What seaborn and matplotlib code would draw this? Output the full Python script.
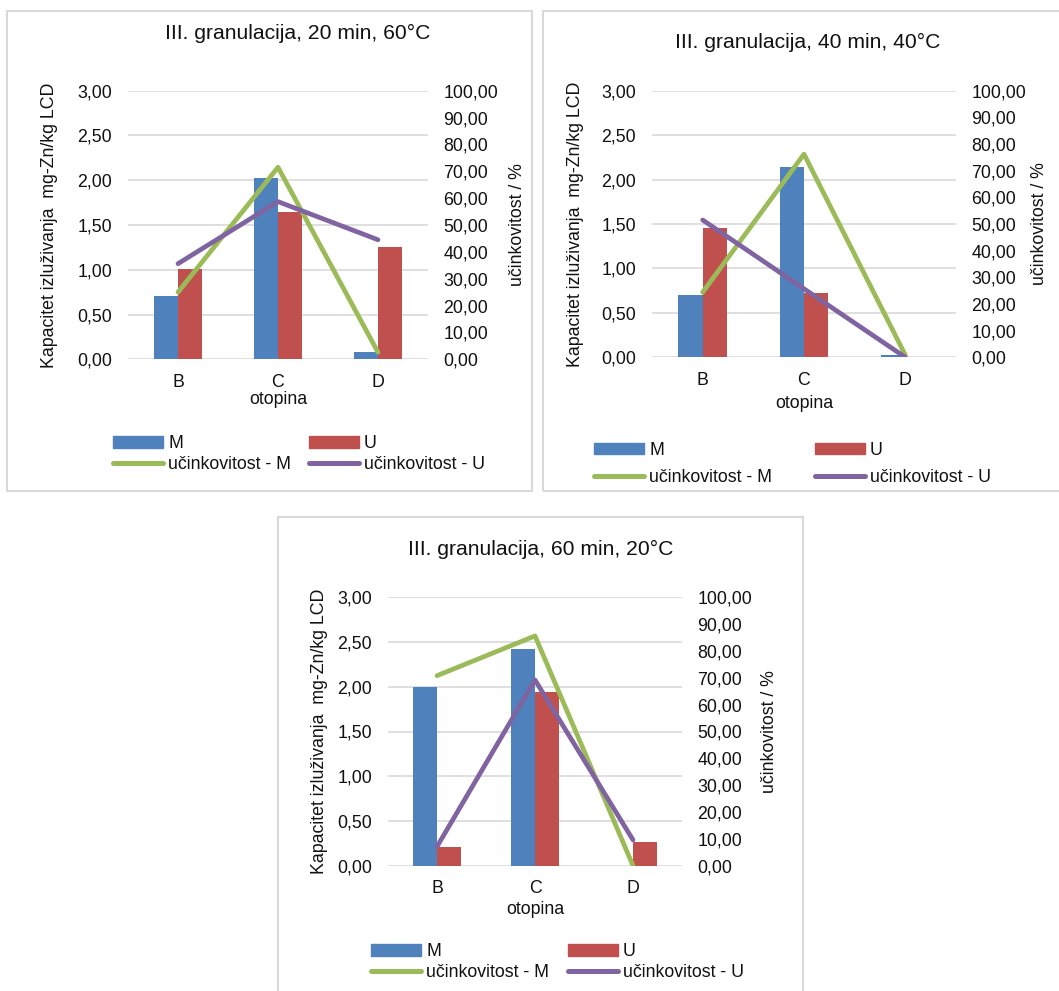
import numpy as np
import pandas as pd
import matplotlib
matplotlib.use('Agg')
import matplotlib.pyplot as plt
from matplotlib.patches import Rectangle, Patch
from matplotlib.lines import Line2D
import seaborn as sns

# data
categories = ['B', 'C', 'D']
titles = ['III. granulacija, 20 min, 60°C',
          'III. granulacija, 40 min, 40°C',
          'III. granulacija, 60 min, 20°C']

m_20 = [0.71, 2.02, 0.08]
u_20 = [1.01, 1.65, 1.25]
eff_m_20 = [25.0, 71.5, 2.6]
eff_u_20 = [35.6, 58.7, 44.5]

m_40 = [0.70, 2.14, 0.03]
u_40 = [1.45, 0.72, 0.0]
eff_m_40 = [24.4, 76.2, 0.8]
eff_u_40 = [51.5, 25.7, 0.0]

m_60 = [2.00, 2.42, 0.0]
u_60 = [0.205, 1.94, 0.265]
eff_m_60 = [70.8, 85.6, 0.0]
eff_u_60 = [7.1, 69.2, 9.6]

left_ticks = ['0,00', '0,50', '1,00', '1,50', '2,00', '2,50', '3,00']
right_ticks = ['0,00', '10,00', '20,00', '30,00', '40,00', '50,00',
               '60,00', '70,00', '80,00', '90,00', '100,00']

BLUE, RED, GREEN, PURPLE = '#4F81BD', '#C0504D', '#9BBB59', '#8064A2'
GRID = '#D9D9D9'
TXT = '#111111'

sns.set_theme(style='white')
plt.rcParams['font.family'] = ['Liberation Sans', 'DejaVu Sans']
FS = 12.8

W, H = 1059, 991
fig = plt.figure(figsize=(W / 100, H / 100), dpi=100)


def px(x, y):
    return x / W, 1 - y / H


def rect(l, t, r, b):
    return [l / W, 1 - b / H, (r - l) / W, (b - t) / H]


# panel frames
for (l, t, r, b) in [(7, 11, 532, 491), (543, 11, 1062, 491), (278, 517, 803, 995)]:
    fig.patches.append(Rectangle((l / W, 1 - b / H), (r - l) / W, (b - t) / H,
                                 transform=fig.transFigure, fill=False,
                                 edgecolor=GRID, lw=1.5))

panels = [
    dict(m=m_20, u=u_20, em=eff_m_20, eu=eff_u_20, box=(128, 90.7, 428, 359.3),
         title=(298, 33), ylab=49.5, rlab=517, xlab=400, leg=(113, 454), cs=1.0, ls=0.2),
    dict(m=m_40, u=u_40, em=eff_m_40, eu=eff_u_40, box=(652, 90.7, 956, 357.3),
         title=(808, 42), ylab=575, rlab=1040, xlab=403, leg=(594, 464), cs=2.4, ls=0.55),
    dict(m=m_60, u=u_60, em=eff_m_60, eu=eff_u_60, box=(388, 597.3, 682, 865.7),
         title=(541, 549), ylab=319, rlab=770, xlab=909, leg=(371, 962), cs=1.05, ls=0.2),
]

for p, title in zip(panels, titles):
    l, t, r, b = p['box']
    ax = fig.add_axes(rect(l, t, r, b))
    df = pd.DataFrame({
        'otopina': categories * 2,
        'val': p['m'] + p['u'],
        'serija': ['M'] * 3 + ['U'] * 3,
    })
    sns.barplot(data=df, x='otopina', y='val', hue='serija', palette=[BLUE, RED],
                width=0.48, saturation=1, gap=0, linewidth=0, legend=False, ax=ax)
    ax.set_xlim(-0.5, 2.5)
    ax.set_ylim(0, 3)
    ax.set_yticks(np.arange(0, 3.01, 0.5))
    ax.set_yticklabels(left_ticks)
    ax.set_axisbelow(True)
    ax.grid(axis='y', color=GRID, lw=1.2)
    ax.grid(axis='x', visible=False)
    for s in ax.spines.values():
        s.set_visible(False)
    ax.tick_params(axis='y', length=0, pad=11.5, labelsize=FS, labelcolor=TXT)
    ax.tick_params(axis='x', length=0, pad=10.5, labelsize=FS, labelcolor=TXT)
    ax.set_xlabel('')
    ax.set_ylabel('')

    ax2 = ax.twinx()
    sns.lineplot(x=np.arange(3), y=p['em'], color=GREEN, lw=3.4, ax=ax2,
                 solid_capstyle='round')
    sns.lineplot(x=np.arange(3), y=p['eu'], color=PURPLE, lw=3.4, ax=ax2,
                 solid_capstyle='round')
    ax2.set_xlim(-0.5, 2.5)
    ax2.set_ylim(0, 100)
    ax2.set_yticks(np.arange(0, 101, 10))
    ax2.set_yticklabels(right_ticks)
    ax2.grid(False)
    for s in ax2.spines.values():
        s.set_visible(False)
    ax2.tick_params(axis='y', length=0, pad=11, labelsize=FS, labelcolor=TXT)
    ax2.set_ylabel('')

    cy = (t + b) / 2
    fig.text(*px(*p['title']), title, ha='center', va='center', fontsize=15.2, color=TXT)
    fig.text(*px(p['ylab'], cy), 'Kapacitet izluživanja  mg-Zn/kg LCD', rotation=90,
             ha='center', va='center', fontsize=FS, color=TXT)
    fig.text(*px(p['rlab'], cy), 'učinkovitost / %', rotation=90,
             ha='center', va='center', fontsize=FS, color=TXT)
    fig.text(*px((l + r) / 2, p['xlab']), 'otopina', ha='center', va='center',
             fontsize=FS, color=TXT)

    handles = [Patch(color=BLUE), Line2D([0], [0], color=GREEN, lw=3.6, solid_capstyle='round'),
               Patch(color=RED), Line2D([0], [0], color=PURPLE, lw=3.6, solid_capstyle='round')]
    labels = ['M', 'učinkovitost - M', 'U', 'učinkovitost - U']
    fig.legend(handles, labels, loc='center left', bbox_to_anchor=px(*p['leg']),
               bbox_transform=fig.transFigure, ncol=2, frameon=False, borderpad=0,
               borderaxespad=0, fontsize=FS, handlelength=2.8, handletextpad=0.3,
               columnspacing=p['cs'], labelspacing=p['ls'], handleheight=0.6,
               labelcolor=TXT)

fig.savefig('out.png', dpi=100, facecolor='white')
